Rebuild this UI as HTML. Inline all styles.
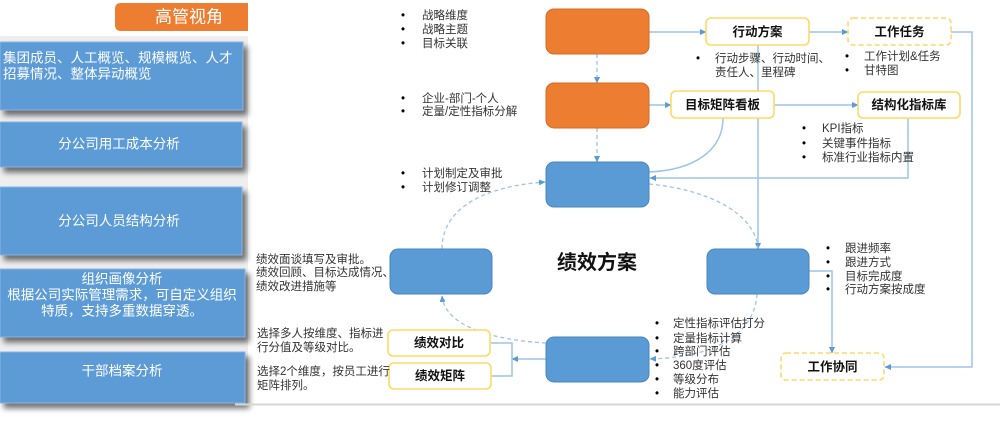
<!DOCTYPE html>
<html><head><meta charset="utf-8">
<style>
html,body{margin:0;padding:0;background:#fff;width:1000px;height:423px;overflow:hidden;}
svg{display:block;font-family:"Liberation Sans","Noto Sans CJK SC",sans-serif;}
.bt{font-size:11.5px;fill:#333;}
.bl{font-size:11.5px;fill:#000;}
.yb{font-size:12.5px;font-weight:bold;fill:#111;}
.lt{font-size:13.5px;fill:#fff;}
</style></head><body>
<svg width="1000" height="423" viewBox="0 0 1000 423" xmlns="http://www.w3.org/2000/svg">
<defs>
<marker id="a" markerWidth="7" markerHeight="7" refX="6" refY="3.5" orient="auto" markerUnits="userSpaceOnUse"><path d="M0,0.5 L6.5,3.5 L0,6.5 z" fill="#5B9BD5"/></marker>
<filter id="sh" x="-10%" y="-20%" width="130%" height="160%">
<feGaussianBlur in="SourceAlpha" stdDeviation="3"/>
<feOffset dx="4" dy="5"/>
<feComponentTransfer><feFuncA type="linear" slope="0.55"/></feComponentTransfer>
<feMerge><feMergeNode/><feMergeNode in="SourceGraphic"/></feMerge>
</filter>
</defs>

<!-- Left panel -->
<rect x="0" y="36" width="248" height="367" fill="#eeeeee"/>
<path d="M121,3 H248 V31 H121 Q115,31 115,25 V9 Q115,3 121,3 Z" fill="#ED7D31"/>
<text x="189" y="17" font-size="17" fill="#fff" text-anchor="middle" dominant-baseline="central">高管视角</text>

<g filter="url(#sh)">
<rect x="0" y="42" width="243" height="68" fill="#5B9BD5" stroke="#8DB3E2" stroke-width="1"/>
<rect x="0" y="122" width="242" height="45" fill="#5B9BD5" stroke="#8DB3E2" stroke-width="1"/>
<rect x="0" y="187" width="242" height="68" fill="#5B9BD5" stroke="#8DB3E2" stroke-width="1"/>
<rect x="0" y="269" width="245" height="68" fill="#5B9BD5" stroke="#8DB3E2" stroke-width="1"/>
<rect x="0" y="352" width="245" height="51" fill="#5B9BD5" stroke="#8DB3E2" stroke-width="1"/>
</g>
<text class="lt" x="3" y="58" dominant-baseline="central">集团成员、人工概览、规模概览、人才</text>
<text class="lt" x="3" y="74" dominant-baseline="central">招募情况、整体异动概览</text>
<text class="lt" x="119" y="144" text-anchor="middle" dominant-baseline="central">分公司用工成本分析</text>
<text class="lt" x="119" y="221" text-anchor="middle" dominant-baseline="central">分公司人员结构分析</text>
<text class="lt" x="122" y="279" text-anchor="middle" dominant-baseline="central">组织画像分析</text>
<text class="lt" x="122" y="295" text-anchor="middle" dominant-baseline="central">根据公司实际管理需求，可自定义组织</text>
<text class="lt" x="122" y="311" text-anchor="middle" dominant-baseline="central">特质，支持多重数据穿透。</text>
<text class="lt" x="122" y="371" text-anchor="middle" dominant-baseline="central">干部档案分析</text>

<!-- bottom rule -->
<line x1="235" y1="404.5" x2="1000" y2="404.5" stroke="#d6d6d6" stroke-width="2"/>

<!-- Solid connectors -->
<g fill="none" stroke="#9DC3E6" stroke-width="1.5">
<path d="M649,32 H706" marker-end="url(#a)"/>
<path d="M809,32 H848" marker-end="url(#a)"/>
<path d="M951,32 H972 V367 H885" marker-end="url(#a)"/>
<path d="M649,105 H671" marker-end="url(#a)"/>
<path d="M774,105 H858" marker-end="url(#a)"/>
<path d="M908,118 V178 H650" marker-end="url(#a)"/>
<path d="M758,45 V249" marker-end="url(#a)"/>
<path d="M723,118 C723,150 695,170 649,172"/>
<path d="M809,271 H832 V353" marker-end="url(#a)"/>
<path d="M546,359 H512" marker-end="url(#a)"/>
<path d="M491,343 H512 V376 H491"/>
</g>

<!-- Dashed connectors -->
<g fill="none" stroke="#9DC3E6" stroke-width="1.3" stroke-dasharray="4 3">
<path d="M597,54 V83" marker-end="url(#a)"/>
<path d="M597,128 V162" marker-end="url(#a)"/>
<path d="M649,184 C712,190 755,215 758,248"/>
<path d="M757,294 C755,330 722,357 650,359" marker-end="url(#a)"/>
<path d="M546,343 C492,340 445,326 442,296" marker-end="url(#a)"/>
<path d="M442,249 C442,206 488,186 545,182" marker-end="url(#a)"/>
</g>

<!-- Orange boxes -->
<rect x="546" y="9" width="103" height="45" rx="8" fill="#ED7D31" stroke="#D46A22" stroke-width="1"/>
<rect x="546" y="83" width="103" height="45" rx="8" fill="#ED7D31" stroke="#D46A22" stroke-width="1"/>

<!-- Blue boxes -->
<g fill="#5B9BD5" stroke="#4A86C0" stroke-width="1">
<rect x="546" y="162" width="103" height="45" rx="8"/>
<rect x="390" y="249" width="102" height="45" rx="8"/>
<rect x="707" y="249" width="102" height="45" rx="8"/>
<rect x="546" y="337" width="103" height="45" rx="8"/>
</g>

<!-- Yellow boxes -->
<g fill="#fff" stroke="#FFD966" stroke-width="1.6">
<rect x="706" y="18" width="103" height="27" rx="5"/>
<rect x="848" y="18" width="103" height="27" rx="5" stroke-dasharray="5 3"/>
<rect x="671" y="91" width="103" height="27" rx="5"/>
<rect x="858" y="92" width="102" height="26" rx="5"/>
<rect x="781" y="353" width="103" height="27" rx="5" stroke-dasharray="5 3"/>
<rect x="388" y="330" width="102" height="26" rx="5"/>
<rect x="389" y="363" width="102" height="26" rx="5"/>
</g>
<text class="yb" x="757.5" y="32" text-anchor="middle" dominant-baseline="central">行动方案</text>
<text class="yb" x="899.5" y="32" text-anchor="middle" dominant-baseline="central">工作任务</text>
<text class="yb" x="722.5" y="105" text-anchor="middle" dominant-baseline="central">目标矩阵看板</text>
<text class="yb" x="909" y="105" text-anchor="middle" dominant-baseline="central">结构化指标库</text>
<text class="yb" x="832.5" y="367" text-anchor="middle" dominant-baseline="central">工作协同</text>
<text class="yb" x="439" y="343" text-anchor="middle" dominant-baseline="central">绩效对比</text>
<text class="yb" x="440" y="376" text-anchor="middle" dominant-baseline="central">绩效矩阵</text>

<!-- center title -->
<text x="597" y="263" font-size="20" font-weight="bold" fill="#111" text-anchor="middle" dominant-baseline="central">绩效方案</text>

<!-- Bullet lists -->
<text class="bl" x="401" y="16" dominant-baseline="central">•</text><text class="bt" x="422" y="16" dominant-baseline="central">战略维度</text>
<text class="bl" x="401" y="30" dominant-baseline="central">•</text><text class="bt" x="422" y="30" dominant-baseline="central">战略主题</text>
<text class="bl" x="401" y="44" dominant-baseline="central">•</text><text class="bt" x="422" y="44" dominant-baseline="central">目标关联</text>
<text class="bl" x="401" y="99" dominant-baseline="central">•</text><text class="bt" x="422" y="99" dominant-baseline="central">企业-部门-个人</text>
<text class="bl" x="401" y="112" dominant-baseline="central">•</text><text class="bt" x="422" y="112" dominant-baseline="central">定量/定性指标分解</text>
<text class="bl" x="401" y="174" dominant-baseline="central">•</text><text class="bt" x="422" y="174" dominant-baseline="central">计划制定及审批</text>
<text class="bl" x="401" y="188" dominant-baseline="central">•</text><text class="bt" x="422" y="188" dominant-baseline="central">计划修订调整</text>
<text class="bl" x="696" y="59" dominant-baseline="central">•</text><text class="bt" x="715" y="59" dominant-baseline="central">行动步骤、行动时间、</text>
<text class="bt" x="715" y="73" dominant-baseline="central">责任人、里程碑</text>
<text class="bl" x="845" y="57" dominant-baseline="central">•</text><text class="bt" x="864" y="57" dominant-baseline="central">工作计划&amp;任务</text>
<text class="bl" x="845" y="71" dominant-baseline="central">•</text><text class="bt" x="864" y="71" dominant-baseline="central">甘特图</text>
<text class="bl" x="802" y="129" dominant-baseline="central">•</text><text class="bt" x="822" y="129" dominant-baseline="central">KPI指标</text>
<text class="bl" x="802" y="144" dominant-baseline="central">•</text><text class="bt" x="822" y="144" dominant-baseline="central">关键事件指标</text>
<text class="bl" x="802" y="158" dominant-baseline="central">•</text><text class="bt" x="822" y="158" dominant-baseline="central">标准行业指标内置</text>
<text class="bl" x="826" y="249" dominant-baseline="central">•</text><text class="bt" x="845" y="249" dominant-baseline="central">跟进频率</text>
<text class="bl" x="826" y="263" dominant-baseline="central">•</text><text class="bt" x="845" y="263" dominant-baseline="central">跟进方式</text>
<text class="bl" x="826" y="277" dominant-baseline="central">•</text><text class="bt" x="845" y="277" dominant-baseline="central">目标完成度</text>
<text class="bl" x="826" y="290" dominant-baseline="central">•</text><text class="bt" x="845" y="290" dominant-baseline="central">行动方案按成度</text>
<text class="bt" x="256" y="260" dominant-baseline="central">绩效面谈填写及审批。</text>
<text class="bt" x="256" y="273" dominant-baseline="central">绩效回顾、目标达成情况、</text>
<text class="bt" x="256" y="287" dominant-baseline="central">绩效改进措施等</text>
<text class="bt" x="257" y="334" dominant-baseline="central">选择多人按维度、指标进</text>
<text class="bt" x="257" y="348" dominant-baseline="central">行分值及等级对比。</text>
<text class="bt" x="257" y="372" dominant-baseline="central">选择2个维度，按员工进行</text>
<text class="bt" x="257" y="386" dominant-baseline="central">矩阵排列。</text>
<text class="bl" x="655" y="324" dominant-baseline="central">•</text><text class="bt" x="673" y="324" dominant-baseline="central">定性指标评估打分</text>
<text class="bl" x="655" y="339" dominant-baseline="central">•</text><text class="bt" x="673" y="339" dominant-baseline="central">定量指标计算</text>
<text class="bl" x="655" y="352" dominant-baseline="central">•</text><text class="bt" x="673" y="352" dominant-baseline="central">跨部门评估</text>
<text class="bl" x="655" y="366" dominant-baseline="central">•</text><text class="bt" x="673" y="366" dominant-baseline="central">360度评估</text>
<text class="bl" x="655" y="380" dominant-baseline="central">•</text><text class="bt" x="673" y="380" dominant-baseline="central">等级分布</text>
<text class="bl" x="655" y="394" dominant-baseline="central">•</text><text class="bt" x="673" y="394" dominant-baseline="central">能力评估</text>
</svg>
</body></html>
